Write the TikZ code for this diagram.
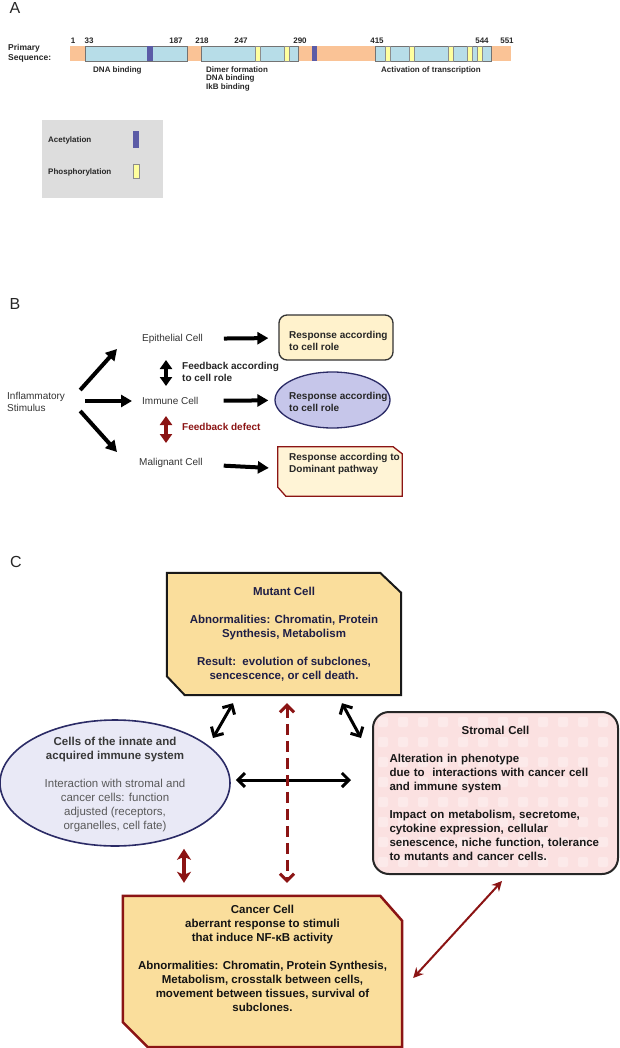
\documentclass[tikz,border=0pt]{standalone}
\usepackage{fontspec}
\setmainfont{Liberation Sans}
\usetikzlibrary{arrows.meta,shapes.geometric,positioning}

\definecolor{peach}{HTML}{FAC396}
\definecolor{domainblue}{HTML}{B7DDE8}
\definecolor{acetyl}{HTML}{5B5BA6}
\definecolor{phospho}{HTML}{FFFF9E}
\definecolor{legendgray}{HTML}{DDDDDD}
\definecolor{cream}{HTML}{FFF2CC}
\definecolor{lavender}{HTML}{C6C6EA}
\definecolor{navy}{HTML}{2B2B66}
\definecolor{darkred}{HTML}{8B1414}
\definecolor{gold}{HTML}{FADE9C}
\definecolor{paleyellow}{HTML}{FFF4D6}
\definecolor{palelav}{HTML}{E9E9F6}
\definecolor{pinkbg}{HTML}{FBE1E1}
\definecolor{ink}{HTML}{1E1E46}

\tikzset{
  panel/.style={font=\fontsize{16}{18}\selectfont, text=black!85, inner sep=0pt},
  seqtxt/.style={font=\bfseries\fontsize{8}{8.5}\selectfont, text=black!85, inner sep=0pt},
  seqdomain/.style={fill=domainblue, draw=black!55, line width=0.6pt},
  phos/.style={fill=phospho, draw=black!45, line width=0.5pt},
  frame/.style={rectangle, draw=none, fill=none, inner sep=0pt},
  celltxt/.style={font=\fontsize{10}{12}\selectfont, text=black!80, inner sep=0pt},
  resptxt/.style={font=\bfseries\fontsize{10}{12}\selectfont, text=black!85, align=left, inner sep=0pt},
  fat/.style={line width=4pt, -{Triangle[length=11pt,width=12pt]}},
  fatdbl/.style={line width=3.5pt, {Triangle[length=9pt,width=12pt]}-{Triangle[length=9pt,width=12pt]}},
  ctxt/.style={font=\bfseries\fontsize{11.5}{14}\selectfont, align=center, inner sep=0pt},
  blkdbl/.style={line width=3pt, {Straight Barb[length=7pt,width=14pt]}-{Straight Barb[length=7pt,width=14pt]}},
  reddash/.style={darkred, line width=3pt, dash pattern=on 11pt off 6pt,
    {Straight Barb[length=7pt,width=14pt]}-{Straight Barb[length=7pt,width=14pt]}},
  redfat/.style={darkred, line width=3.5pt, {Stealth[length=11pt,width=14pt,inset=3pt]}-{Stealth[length=11pt,width=14pt,inset=3pt]}},
  redthin/.style={darkred, line width=2pt, {Stealth[length=10pt,width=10pt]}-{Stealth[length=10pt,width=10pt]}}
}

\begin{document}
\begin{tikzpicture}[x=1pt,y=-1pt]
\useasboundingbox (0,0) rectangle (620,1048);

% ---- A: primary sequence
\node[panel] (labA) at (15,8) {A};
\node[seqtxt, anchor=west, align=left, font=\bfseries\fontsize{8.5}{10}\selectfont] (primseq) at (8,53) {Primary\\Sequence:};
\fill[peach] (70,46) rectangle (511,61);
\draw[seqdomain] (85,46) rectangle (187,61);
\draw[seqdomain] (201,46) rectangle (298,61);
\draw[seqdomain] (375,46) rectangle (491,61);
\fill[acetyl] (147,46) rectangle (153,61);
\fill[acetyl] (312,46) rectangle (317,61);
\foreach \x in {255,284,385,409,448,467,477}
  \draw[phos] (\x,46) rectangle ++(5,15);
\foreach \x/\n in {73/1,89/33,176/187,202/218,241/247,300/290,377/415,482/544,507/551}
  \node[seqtxt] (num\n) at (\x,41) {\n};
\node[seqtxt, anchor=west] (dnab) at (93,70) {DNA binding};
\node[seqtxt, anchor=north west, align=left] (dimer) at (206,66.5) {Dimer formation\\DNA binding\\IkB binding};
\node[seqtxt, anchor=west] (activ) at (381,70) {Activation of transcription};

% legend
\fill[legendgray] (42,120) rectangle (163,198);
\node[seqtxt, anchor=west] (acetxt) at (48,140) {Acetylation};
\fill[acetyl] (133,131) rectangle (139,148);
\node[seqtxt, anchor=west] (phostxt) at (48,172) {Phosphorylation};
\draw[phos] (133,164) rectangle (139,178);

% ---- B: response to stimulus
\node[panel] (labB) at (15,304) {B};
\node[celltxt, anchor=west, align=left] (stim) at (7,402) {Inflammatory\\Stimulus};
\node[celltxt, anchor=west] (epi) at (142,339) {Epithelial Cell};
\node[celltxt, anchor=west] (imm) at (142,401) {Immune Cell};
\node[celltxt, anchor=west] (mal) at (139,463) {Malignant Cell};

\node[rectangle, rounded corners=8pt, fill=cream, draw=black!80, line width=1.3pt,
  minimum width=114pt, minimum height=45pt] (r1) at (336,337.5) {};
\node[ellipse, fill=lavender, draw=navy, line width=1.3pt, inner sep=0pt,
  minimum width=115pt, minimum height=56pt] (r2) at (332.5,400) {};
\node[frame, minimum width=124pt, minimum height=49pt] (r3) at (340,471.5) {};
\filldraw[fill=paleyellow, draw=darkred, line width=1.3pt]
  (r3.north west) -- ([xshift=-9pt]r3.north east) -- ([yshift=-7pt]r3.north east)
  -- (r3.south east) -- ([xshift=8pt]r3.south west) -- ([yshift=9pt]r3.south west) -- cycle;
\node[resptxt, anchor=west] (r1t) at (289,341) {Response according\\to cell role};
\node[resptxt, anchor=west] (r2t) at (289,402) {Response according\\to cell role};
\node[resptxt, anchor=west] (r3t) at (289,464) {Response according to\\Dominant pathway};

\draw[fat] ([shift={(15pt,12pt)}]stim.east) -- ([shift={(-25pt,-10pt)}]epi.west);
\draw[fat] ([shift={(20pt,1pt)}]stim.east) -- ([shift={(-10pt,0pt)}]imm.west);
\draw[fat] ([shift={(15pt,-9pt)}]stim.east) -- ([shift={(-22pt,11pt)}]mal.west);
\draw[fat, shorten <=21pt, shorten >=10pt] (epi) -- (r1);
\draw[fat, shorten <=25pt, shorten >=6pt] (imm) -- (r2);
\draw[fat, shorten <=21pt, shorten >=9pt] (mal) -- (r3);

\draw[fatdbl] ([shift={(24pt,-21pt)}]epi.west) -- ([shift={(24pt,15pt)}]imm.west);
\draw[fatdbl, darkred] ([shift={(24pt,-15pt)}]imm.west) -- ([shift={(27pt,20pt)}]mal.west);
\node[resptxt, anchor=west] (fb1) at (182,372) {Feedback according\\to cell role};
\node[resptxt, anchor=west, text=darkred] (fb2) at (182,427) {Feedback defect};

% ---- C: cell interactions
\node[panel] (labC) at (16,562) {C};
\node[frame, minimum width=234pt, minimum height=122pt] (mut) at (284,634) {};
\filldraw[fill=gold, draw=black!90, line width=2pt]
  (mut.north west) -- ([xshift=-21pt]mut.north east) -- ([yshift=-20pt]mut.north east)
  -- (mut.south east) -- ([xshift=18pt]mut.south west) -- ([yshift=19pt]mut.south west) -- cycle;
\node[ctxt, text=ink] (muttext) at (mut)
  {Mutant Cell\\[14pt]Abnormalities: Chromatin, Protein\\Synthesis, Metabolism\\[14pt]Result:\ \ evolution of subclones,\\sencescence, or cell death.};

\node[rectangle, rounded corners=16pt, fill=pinkbg, draw=black!85, line width=2pt,
  minimum width=245pt, minimum height=162pt, text width=212pt, align=left,
  font=\bfseries\fontsize{11.5}{14}\selectfont, text=black!90,
  path picture={
    \foreach \i in {0,...,12} \foreach \j in {0,...,8}
      \fill[white, opacity=.3, rounded corners=2pt] ([shift={(\i*20pt+5pt,-\j*20pt-5pt)}]path picture bounding box.north west) rectangle ++(10,10);
  }] (strom) at (495.5,793)
  {\makebox[\hsize]{Stromal Cell}\\[14pt]Alteration in phenotype\\due to\ \ interactions with cancer cell\\and immune system\\[14pt]Impact on metabolism, secretome,\\cytokine expression, cellular\\senescence, niche function, tolerance\\to mutants and cancer cells.};

\node[ellipse, fill=palelav, draw=navy, line width=1.6pt, inner sep=0pt,
  minimum width=230pt, minimum height=126pt] (immsys) at (115,783) {};
\node[ctxt, text=black!78] (immtext) at (115,785)
  {Cells of the innate and\\acquired immune system\\[14pt]{\mdseries\color{black!65}Interaction with stromal and}\\{\mdseries\color{black!65}cancer cells: function}\\{\mdseries\color{black!65}adjusted (receptors,}\\{\mdseries\color{black!65}organelles, cell fate)}};

\node[frame, minimum width=279pt, minimum height=151pt] (canc) at (262.5,971.5) {};
\filldraw[fill=gold, draw=darkred, line width=2.5pt]
  (canc.north west) -- ([xshift=-22pt]canc.north east) -- ([yshift=-25pt]canc.north east)
  -- (canc.south east) -- ([xshift=25pt]canc.south west) -- ([yshift=25pt]canc.south west) -- cycle;
\node[ctxt, text=black!92, anchor=north] (canctext) at (262.5,904.5)
  {Cancer Cell\\aberrant response to stimuli\\that induce NF-κB activity\\[14pt]Abnormalities: Chromatin, Protein Synthesis,\\Metabolism, crosstalk between cells,\\movement between tissues, survival of\\subclones.};

\draw[blkdbl] ([shift={(-51pt,-8pt)}]mut.south) -- ([shift={(98pt,45pt)}]immsys.center);
\draw[blkdbl] ([shift={(58pt,-8pt)}]mut.south) -- ([shift={(-11pt,-27pt)}]strom.north west);
\draw[blkdbl] ([shift={(5pt,3pt)}]immsys.east) -- ([shift={(-21pt,13pt)}]strom.west);
\draw[reddash] ([shift={(3pt,-8pt)}]mut.south) -- ([shift={(24.5pt,13pt)}]canc.north);
\draw[redfat] ([shift={(69pt,-2pt)}]immsys.south) -- ([shift={(-78.5pt,13pt)}]canc.north);
\draw[redthin] ([shift={(11pt,-6.5pt)}]canc.east) -- ([shift={(6.5pt,-6pt)}]strom.south);
\end{tikzpicture}
\end{document}
